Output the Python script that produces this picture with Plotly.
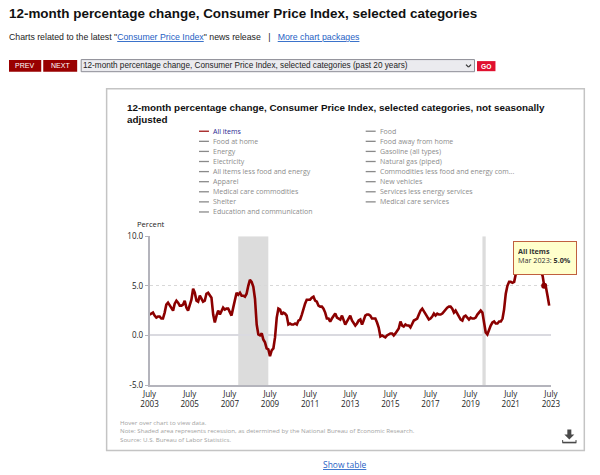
import plotly.graph_objects as go
import pandas as pd

W, H = 600, 475
# The capture insets and slightly shrinks the page; layout is measured in the final picture and mapped back.
CAP_X, CAP_Y = 8.7, 7.4
SCALE_X, SCALE_Y = 0.97, 0.968
S = 1 / SCALE_X
START = "2003-07-01"
# 12-month % change, all items, Jul 2003 - Jun 2023
values = [
    2.1, 2.2, 2.3, 2.0, 1.8, 1.9,
    1.9, 1.7, 1.7, 2.3, 3.1, 3.3, 3.0, 2.7, 2.5, 3.2, 3.5, 3.3,
    3.0, 3.0, 3.1, 3.5, 2.8, 2.5, 3.2, 3.6, 4.7, 4.3, 3.5, 3.4,
    4.0, 3.6, 3.4, 3.5, 4.2, 4.3, 4.1, 3.8, 2.1, 1.3, 2.0, 2.5,
    2.1, 2.4, 2.8, 2.6, 2.7, 2.7, 2.4, 2.0, 2.8, 3.5, 4.3, 4.1,
    4.3, 4.0, 4.0, 3.9, 4.2, 5.0, 5.6, 5.4, 4.9, 3.7, 1.1, 0.1,
    0.0, 0.2, -0.4, -0.7, -1.3, -1.4, -2.1, -1.5, -1.3, -0.2, 1.8, 2.7,
    2.6, 2.1, 2.3, 2.2, 2.0, 1.1, 1.2, 1.1, 1.1, 1.2, 1.1, 1.5,
    1.6, 2.1, 2.7, 3.2, 3.6, 3.6, 3.6, 3.8, 3.9, 3.5, 3.4, 3.0,
    2.9, 2.9, 2.7, 2.3, 1.7, 1.7, 1.4, 1.7, 2.0, 2.2, 1.8, 1.7,
    1.6, 2.0, 1.5, 1.1, 1.4, 1.8, 2.0, 1.5, 1.2, 1.0, 1.2, 1.5,
    1.6, 1.1, 1.5, 2.0, 2.1, 2.1, 2.0, 1.7, 1.7, 1.7, 1.3, 0.8,
    -0.1, 0.0, -0.1, -0.2, 0.0, 0.1, 0.2, 0.2, 0.0, 0.2, 0.5, 0.7,
    1.4, 1.0, 0.9, 1.1, 1.0, 1.0, 0.8, 1.1, 1.5, 1.6, 1.7, 2.1,
    2.5, 2.7, 2.4, 2.2, 1.9, 1.6, 1.7, 1.9, 2.2, 2.0, 2.2, 2.1,
    2.1, 2.2, 2.4, 2.5, 2.8, 2.9, 2.9, 2.7, 2.3, 2.5, 2.2, 1.9,
    1.6, 1.5, 1.9, 2.0, 1.8, 1.6, 1.8, 1.7, 1.7, 1.8, 2.1, 2.3,
    2.5, 2.3, 1.5, 0.3, 0.1, 0.6, 1.0, 1.3, 1.4, 1.2, 1.2, 1.4,
    1.4, 1.7, 2.6, 4.2, 5.0, 5.4, 5.4, 5.3, 5.4, 6.2, 6.8, 7.0,
    7.5, 7.9, 8.5, 8.3, 8.6, 9.1, 8.5, 8.3, 8.2, 7.7, 7.1, 6.5,
    6.4, 6.0, 5.0, 4.9, 4.0, 3.0,
]
dates = list(pd.date_range(START, periods=len(values), freq="MS"))
legend_left = ["All items", "Food at home", "Energy", "Electricity", "All items less food and energy",
               "Apparel", "Medical care commodities", "Shelter", "Education and communication"]
legend_right = ["Food", "Food away from home", "Gasoline (all types)", "Natural gas (piped)",
                "Commodities less food and energy com...", "New vehicles", "Services less energy services",
                "Medical care services"]
tick_years = list(range(2003, 2024, 2))
recessions = [("2007-12-01", "2009-06-01"), ("2020-02-01", "2020-04-01")]
hover_date = "2023-03-01"
hover_value = 5.0

RED = "#8b0000"
FONT = "Open Sans"
HEAD = "Liberation Sans"


def px(x):
    return ((x - CAP_X) / SCALE_X) / W


def py(y):
    return 1 - ((y - CAP_Y) / SCALE_Y) / H


shapes, ann = [], []


def rect(x0, y0, x1, y1, fill, line="rgba(0,0,0,0)", lw=1):
    shapes.append(dict(type="rect", xref="paper", yref="paper", x0=px(x0), x1=px(x1), y0=py(y0), y1=py(y1),
                       fillcolor=fill, line=dict(color=line, width=lw), layer="below"))


def seg(x0, y0, x1, y1, color, lw=1):
    shapes.append(dict(type="line", xref="paper", yref="paper", x0=px(x0), x1=px(x1), y0=py(y0), y1=py(y1),
                       line=dict(color=color, width=lw)))


def text(x, y, s, size=9, color="#222", family=FONT, anchor="left"):
    ann.append(dict(xref="paper", yref="paper", x=px(x), y=py(y), text=s, showarrow=False, xanchor=anchor,
                    yanchor="middle", align=anchor, font=dict(size=size * S, color=color, family=family),
                    borderpad=0, borderwidth=0))


# page header
text(8.7, 15, "<b>12-month percentage change, Consumer Price Index, selected categories</b>", 13.05, "#111", HEAD)
LINK = "#1f5fc4"
text(8.7, 38, 'Charts related to the latest "<span style="color:%s"><u>Consumer Price Index</u></span>" news release'
     '   |   <span style="color:%s"><u>More chart packages</u></span>' % (LINK, LINK), 8.5, "#222", HEAD)
rect(8.7, 61, 41, 72.5, "#990000")
rect(43, 61, 77, 72.5, "#990000")
text(24.5, 66.7, "PREV", 6.8, "#fff", HEAD, "center")
text(60, 66.7, "NEXT", 6.8, "#fff", HEAD, "center")
rect(81, 60.5, 475, 72.5, "#ebebef", "#8d8d95", 1)
text(82.5, 66.5, "12-month percentage change, Consumer Price Index, selected categories (past 20 years)", 7.95, "#222", HEAD)
seg(466.5, 65.5, 469, 68, "#333", 1.2)
seg(469, 68, 471.5, 65.5, "#333", 1.2)
rect(477.5, 62, 496, 72, "#e0102f")
text(486.7, 67, "<b>GO</b>", 6.5, "#fff", HEAD, "center")

# chart frame
rect(106.5, 89.5, 585, 448, "#ffffff", "#c4c4c4", 1.5)
text(127, 108, "<b>12-month percentage change, Consumer Price Index, selected categories, not seasonally</b>", 9.57, "#111", HEAD)
text(127, 119.5, "<b>adjusted</b>", 9.57, "#111", HEAD)

# legend
for col, (names, ix, tx) in enumerate([(legend_left, 199, 213), (legend_right, 366, 380)]):
    for i, name in enumerate(names):
        yy = 131.5 + i * 10
        first = name == "All items"
        seg(ix, yy, ix + 10, yy, "#a01818" if first else "#8a8a8a", 1.3)
        text(tx, yy, name, 6.8, "#27278f" if first else "#8c8c8c")

text(136.5, 223, "Percent", 7.4, "#222")

# footer
for yy, s in [(420.3, "Hover over chart to view data."),
              (428.5, "Note: Shaded area represents recession, as determined by the National Bureau of Economic Research."),
              (436.5, "Source: U.S. Bureau of Labor Statistics.")]:
    text(119.7, yy, s, 6.0, "#a2a2a2")
text(345, 462, "<u>Show table</u>", 8.2, LINK, FONT, "center")

# download icon
shapes.append(dict(type="path", xref="paper", yref="paper", fillcolor="#4a4a4a", line=dict(width=0),
                   path="M %f %f L %f %f L %f %f L %f %f L %f %f L %f %f L %f %f Z" % tuple(
                       v for p in [(568, 427), (572, 427), (572, 432), (575, 432), (570, 437), (565, 432), (568, 432)]
                       for v in (px(p[0]), py(p[1])))))
seg(563, 440, 577, 440, "#4a4a4a", 1.6)
seg(563.3, 437.5, 563.3, 440, "#4a4a4a", 1)
seg(576.7, 437.5, 576.7, 440, "#4a4a4a", 1)

# recession bands use the chart's own date axis
for a, b in recessions:
    shapes.append(dict(type="rect", xref="x", yref="y", x0=a, x1=b, y0=-5, y1=10, fillcolor="#dcdcdc",
                       line=dict(width=0), layer="below"))

# tooltip
ann.append(dict(xref="paper", yref="paper", x=px(514), y=py(240.3), xanchor="left", yanchor="top", showarrow=False,
                width=52 * S, height=23 * S, align="left", valign="top", bgcolor="#ffffcc", bordercolor="#c0603f",
                borderwidth=1, borderpad=4,
                text="<b>All items</b><br>Mar 2023: <b>5.0%</b>", font=dict(size=7.0 * S, color="#333", family=FONT)))

fig = go.Figure()
fig.add_trace(go.Scatter(x=dates, y=values, mode="lines", name="All items", showlegend=False,
                         line=dict(color=RED, width=2.6),
                         hovertemplate="%{x|%b %Y}: %{y:.1f}%<extra>All items</extra>"))
fig.add_trace(go.Scatter(x=[hover_date], y=[hover_value], mode="markers", showlegend=False, hoverinfo="skip",
                         marker=dict(color=RED, size=6)))

fig.update_layout(
    width=W, height=H, margin=dict(l=0, r=0, t=0, b=0), autosize=False,
    paper_bgcolor="#ffffff", plot_bgcolor="rgba(0,0,0,0)", showlegend=False,
    font=dict(family=FONT, color="#222", size=9),
    shapes=shapes, annotations=ann,
    xaxis=dict(type="date", domain=[px(149.5), px(551.5)], range=[START, "2023-07-01"],
               tickmode="array", tickvals=["%d-07-01" % y for y in tick_years],
               ticktext=["July<br>%d" % y for y in tick_years], tickangle=0,
               showgrid=False, zeroline=False, showline=True, linecolor="#b4b4bc", linewidth=2,
               ticks="", tickfont=dict(size=7.8 * S, color="#222")),
    yaxis=dict(domain=[py(383), py(235.5)], range=[-5, 10], tickmode="array", tickvals=[-5, 0, 5, 10],
               ticktext=["-5.0", "0.0", "5.0", "10.0"], showgrid=True, gridcolor="#d8d8d8", griddash="dot",
               gridwidth=1, zeroline=True, zerolinecolor="#dadae0", zerolinewidth=1.5, showline=True,
               linecolor="#b4b4bc", linewidth=1.5, ticks="outside", ticklen=3, tickcolor="#b4b4bc",
               tickfont=dict(size=7.8 * S, color="#222")),
)
fig.write_html(
    "out.html",
    config=dict(displayModeBar=False),
    post_script="var s=document.createElement('style');"
                "s.textContent='html,body{margin:0!important;padding:0!important;overflow:hidden}';"
                "document.head.appendChild(s);",
)
